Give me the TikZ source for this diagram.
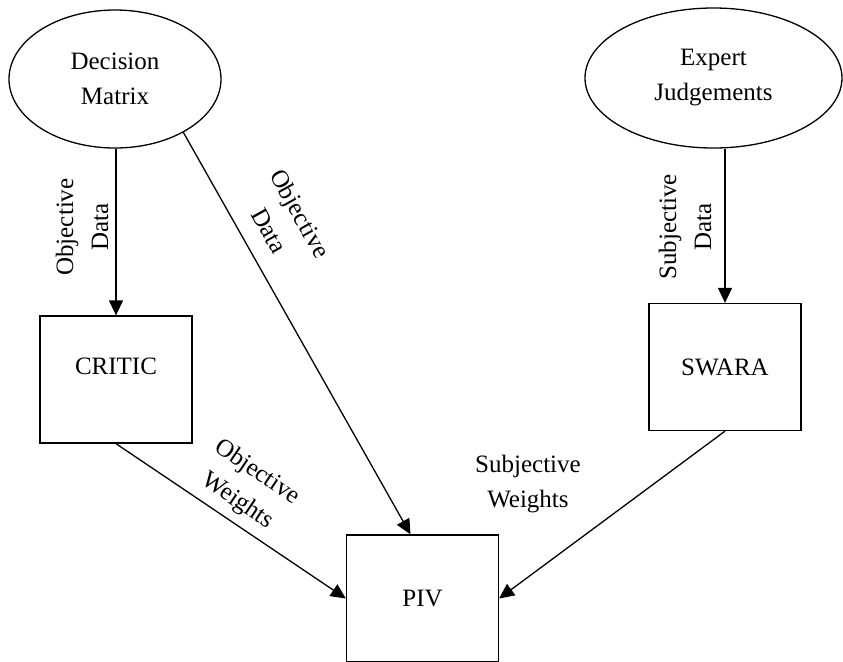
\documentclass[tikz,border=0pt]{standalone}
\usepackage{fontspec}
\setmainfont{Liberation Serif}
\usetikzlibrary{shapes,arrows.meta,calc}

\begin{document}
\begin{tikzpicture}[x=0.5pt, y=-0.5pt, line width=0.65pt]
    \tikzstyle{every node}=[font=\fontsize{12.5}{17.5}\selectfont,
				align=center]
    % The inputs:
    \tikzstyle{source}=[ellipse, draw=black, inner sep=0pt]
    % The methods:
    \tikzstyle{method}=[rectangle, draw=black,
				minimum width=76pt, minimum height=63.5pt]
    \tikzstyle{flow}=[-{Triangle[length=7.5pt,width=7pt]}, black]
    \tikzstyle{flowlabel}=[inner sep=0pt]

    \useasboundingbox (0,0) rectangle (843,661);

    \node[source, minimum width=106pt, minimum height=69pt] (matrix) at (115,79) {Decision\\Matrix};
    \node[source, minimum width=128.5pt, minimum height=70pt] (expert) at (713.5,78) {Expert\\Judgements};
    \node[method, text depth=13.5pt] (critic) at (116,379.5) {CRITIC};
    \node[method] (swara) at (725,367) {SWARA};
    \node[method] (piv) at (422.5,598.5) {PIV};

    \draw[flow] (critic.north |- matrix.south) -- (critic.north);
    \draw[flow] (matrix.-38) -- ($(piv.north)+(-12,0)$);
    \draw[flow] (swara.north |- expert.south) -- (swara.north);
    \draw[flow] (critic.south) -- (piv.west);
    \draw[flow] (swara.south) -- (piv.east);

    \node[flowlabel, rotate=90] (objdata) at (82,227) {Objective\\Data};
    \node[flowlabel, rotate=-60.8] (objdatapiv) at (285,222) {Objective\\Data};
    \node[flowlabel, rotate=-34] (objweights) at (247,487) {Objective\\Weights};
    \node[flowlabel] (subjweights) at (528,484) {Subjective\\Weights};
    \node[flowlabel, rotate=90] (subjdata) at (685,227) {Subjective\\Data};
\end{tikzpicture}
\end{document}
